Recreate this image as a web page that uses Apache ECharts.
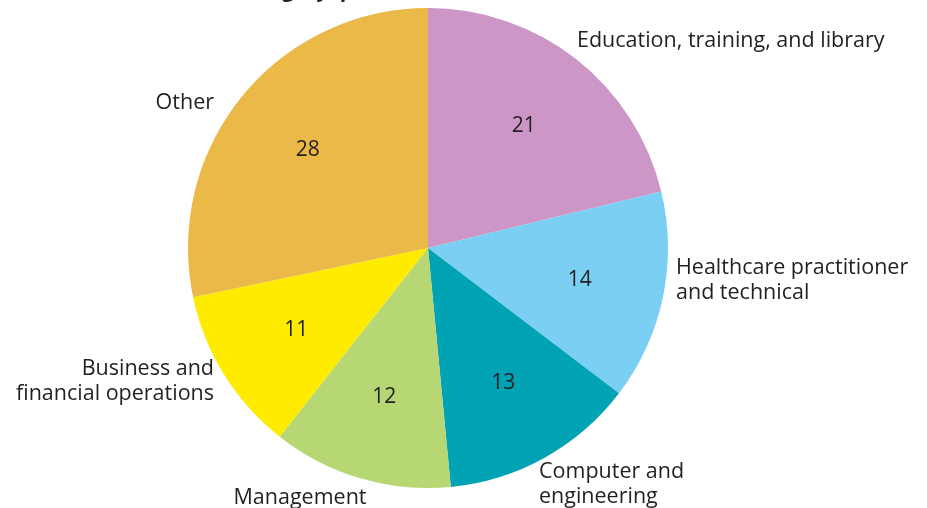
<!DOCTYPE html>
<html>
<head>
<meta charset="utf-8">
<script src="https://cdn.jsdelivr.net/npm/echarts@6/dist/echarts.min.js"></script>
<style>
  html, body { margin: 0; padding: 0; background: #fff; }
  #chart { width: 927px; height: 508px; }
</style>
</head>
<body>
<div id="chart"></div>
<script>
// share of openings by category, clockwise from 12 o'clock
var categories = [
  'Education, training, and library',
  'Healthcare practitioner\nand technical',
  'Computer and\nengineering',
  'Management',
  'Business and\nfinancial operations',
  'Other'
]
var values = [21, 14, 13, 12, 11, 28]
var colors = ['#CC96C6', '#7ACFF3', '#00A3B4', '#B7D674', '#FFEB00', '#EBB947']

// where the category names sit (x, y, align)
var namePos = [
  [577, 41, 'left'],
  [676, 280, 'left'],
  [539, 484, 'left'],
  [300, 498, 'center'],
  [214, 381, 'right'],
  [214, 103, 'right']
]

var font = '"Open Sans", "Noto Sans", sans-serif'
var chart = echarts.init(document.getElementById('chart'))

var pieData = values.map(function (v, i) {
  return { name: categories[i], value: v, itemStyle: { color: colors[i] } }
})

var option = {
  animation: false,
  title: {
    text: 'category, percent',
    left: 232,
    top: -24,
    textStyle: { fontFamily: font, fontSize: 21, fontWeight: 'bold', color: '#231F20' }
  },
  series: [
    {
      type: 'pie',
      center: [428, 248],
      radius: [0, 240],
      startAngle: 90,
      clockwise: true,
      data: pieData,
      itemStyle: { borderWidth: 0 },
      label: {
        show: true,
        position: 'outside',
        formatter: '{b}',
        overflow: 'none',
        fontFamily: font,
        fontSize: 21.5,
        lineHeight: 25,
        color: '#231F20'
      },
      labelLine: { show: false },
      labelLayout: function (params) {
        var p = namePos[params.dataIndex]
        return { x: p[0], y: p[1], align: p[2], verticalAlign: 'middle' }
      },
      emphasis: { disabled: true }
    },
    {
      // invisible ring, only for the value labels at ~0.63 of the radius
      type: 'pie',
      center: [428, 248],
      radius: [0, 304],
      startAngle: 90,
      clockwise: true,
      silent: true,
      z: 5,
      data: values.map(function (v, i) {
        return { name: categories[i], value: v }
      }),
      itemStyle: { color: 'rgba(0,0,0,0)' },
      label: {
        show: true,
        position: 'inner',
        formatter: '{c}',
        fontFamily: font,
        fontSize: 21,
        color: '#231F20'
      },
      labelLine: { show: false },
      emphasis: { disabled: true }
    }
  ]
}

chart.setOption(option)
</script>
</body>
</html>
